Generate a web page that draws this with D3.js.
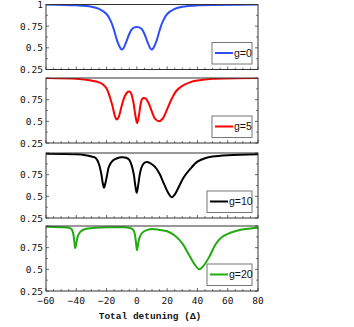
<!DOCTYPE html>
<html>
<head>
<meta charset="utf-8">
<script src="https://cdn.jsdelivr.net/npm/d3@7"></script>
<style>
  body { margin: 0; background: #fff; }
  svg text { fill: #111; }
</style>
</head>
<body>
<div id="chart"></div>
<script>
// values
const labels = ["g=0", "g=5", "g=10", "g=20"];
const colors = ["#2e4dff", "#ff0000", "#000000", "#22aa11"];

const g0X = [-60, -40, -30, -25, -20, -17, -15, -13, -11, -10, -9, -7, -5, -3, 0, 3, 5, 7, 9, 10, 11, 13, 15, 17, 20, 25, 30, 40, 80];
const g0Y = [1.0, 0.99, 0.975, 0.95, 0.89, 0.80, 0.70, 0.58, 0.50, 0.48, 0.49, 0.57, 0.66, 0.72, 0.74, 0.72, 0.66, 0.57, 0.49, 0.48, 0.50, 0.58, 0.70, 0.80, 0.89, 0.95, 0.975, 0.99, 1.0];

const g5X = [-60, -40, -30, -25, -22, -20, -18, -16, -14.5, -13.3, -12, -10, -8, -6, -5, -4, -2.5, -1, 0.2, 1.5, 2.5, 3.5, 4.7, 6, 8, 10, 12, 14.5, 17, 20, 23, 26, 30, 35, 40, 50, 80];
const g5Y = [1.0, 0.99, 0.97, 0.95, 0.92, 0.88, 0.79, 0.67, 0.56, 0.52, 0.55, 0.68, 0.79, 0.84, 0.845, 0.83, 0.74, 0.57, 0.48, 0.58, 0.70, 0.76, 0.77, 0.76, 0.70, 0.61, 0.53, 0.50, 0.53, 0.64, 0.76, 0.85, 0.91, 0.95, 0.97, 0.99, 1.0];

const g10X = [-60, -40, -34, -30, -27, -25, -23.5, -22.5, -21.7, -20.8, -19.5, -18.5, -16, -13, -10, -7, -5, -3.5, -2, -1, -0.1, 0.8, 2, 3, 4.5, 6.5, 9, 12, 15, 18, 21, 23, 25, 28, 31, 35, 40, 45, 50, 60, 80];
const g10Y = [0.99, 0.985, 0.975, 0.96, 0.94, 0.87, 0.76, 0.65, 0.60, 0.65, 0.76, 0.84, 0.91, 0.94, 0.95, 0.945, 0.92, 0.86, 0.75, 0.62, 0.54, 0.62, 0.76, 0.83, 0.88, 0.895, 0.88, 0.84, 0.76, 0.64, 0.53, 0.49, 0.52, 0.62, 0.72, 0.81, 0.90, 0.94, 0.96, 0.975, 0.985];

const g20X = [-60, -50, -45, -43, -42, -41.3, -40.7, -40, -39, -37.5, -35, -30, -20, -10, -5, -2.5, -1.3, -0.5, 0.1, 0.8, 1.8, 3.5, 6, 10, 15, 20, 25, 30, 34, 38, 41.2, 44, 48, 52, 56, 60, 66, 72, 80];
const g20Y = [0.99, 0.985, 0.98, 0.96, 0.91, 0.82, 0.745, 0.80, 0.88, 0.93, 0.96, 0.975, 0.985, 0.985, 0.98, 0.96, 0.90, 0.80, 0.72, 0.79, 0.87, 0.92, 0.95, 0.965, 0.955, 0.94, 0.89, 0.80, 0.68, 0.56, 0.50, 0.54, 0.65, 0.79, 0.87, 0.91, 0.945, 0.965, 0.98];

const xTicks = [-60, -40, -20, 0, 20, 40, 60, 80];
const yTicksFirst = [0.25, 0.5, 0.75, 1];
const yTicksRest = [0.25, 0.5, 0.75];

const seriesX = [g0X, g5X, g10X, g20X];
const seriesY = [g0Y, g5Y, g10Y, g20Y];

const width = 354, height = 327;
const left = 46, right = 258;
const tops = [4.5, 78, 153, 226];
const ph = 65;

const svg = d3.select("#chart").append("svg")
  .attr("width", width)
  .attr("height", height);

const x = d3.scaleLinear().domain([-60, 80]).range([left, right]);

const tickFont = "'DejaVu Sans Mono', monospace";

tops.forEach((top, i) => {
  const y = d3.scaleLinear().domain([0.25, 1]).range([top + ph, top]);
  const g = svg.append("g");

  g.append("clipPath").attr("id", "clip" + i)
    .append("rect")
    .attr("x", left).attr("y", top)
    .attr("width", right - left).attr("height", ph);

  // inner tick marks, left and right
  const yMinor = d3.range(0.25, 1.0001, 0.125);
  yMinor.forEach(v => {
    const major = Math.abs((v / 0.25) - Math.round(v / 0.25)) < 1e-6;
    const len = major ? 3 : 1.8;
    g.append("line").attr("x1", left).attr("x2", left + len)
      .attr("y1", y(v)).attr("y2", y(v)).attr("stroke", "#444").attr("stroke-width", 0.8);
    g.append("line").attr("x1", right).attr("x2", right - len)
      .attr("y1", y(v)).attr("y2", y(v)).attr("stroke", "#444").attr("stroke-width", 0.8);
  });

  // bottom ticks every 5
  d3.range(-60, 81, 5).forEach(v => {
    const len = v % 20 === 0 ? 3 : 1.8;
    g.append("line").attr("x1", x(v)).attr("x2", x(v))
      .attr("y1", top + ph).attr("y2", top + ph - len)
      .attr("stroke", "#444").attr("stroke-width", 0.8);
  });

  const pts = seriesX[i].map((xv, k) => [xv, seriesY[i][k]]);
  const line = d3.line()
    .x(d => x(d[0]))
    .y(d => y(d[1]))
    .curve(d3.curveCatmullRom.alpha(0.5));

  g.append("path")
    .datum(pts)
    .attr("clip-path", `url(#clip${i})`)
    .attr("fill", "none")
    .attr("stroke", colors[i])
    .attr("stroke-width", 2)
    .attr("d", line);

  // frame
  g.append("rect")
    .attr("x", left).attr("y", top)
    .attr("width", right - left).attr("height", ph)
    .attr("fill", "none").attr("stroke", "#333").attr("stroke-width", 1);

  // y labels
  const yt = i === 0 ? yTicksFirst : yTicksRest;
  g.selectAll("text.yt").data(yt).enter().append("text")
    .attr("x", left - 3)
    .attr("y", d => y(d) + 3.5)
    .attr("text-anchor", "end")
    .style("font-family", tickFont)
    .style("font-size", "9.5px")
    .text(d => String(d));

  // legend
  const lw = labels[i].length > 3 ? 45 : 40;
  const lx = 252 - lw, ly = top + ph - 27;
  g.append("rect")
    .attr("x", lx).attr("y", ly)
    .attr("width", lw).attr("height", 21.5)
    .attr("fill", "#fff").attr("stroke", "#777").attr("stroke-width", 1);
  g.append("line")
    .attr("x1", lx + 3).attr("x2", lx + 21)
    .attr("y1", ly + 10.5).attr("y2", ly + 10.5)
    .attr("stroke", colors[i]).attr("stroke-width", 2);
  g.append("text")
    .attr("x", lx + 22).attr("y", ly + 14)
    .style("font-family", "'Liberation Sans', Arial, sans-serif")
    .style("font-size", "10.5px")
    .text(labels[i]);
});

// x axis labels under the last panel
const bottom = tops[3] + ph;
svg.selectAll("text.xt").data(xTicks).enter().append("text")
  .attr("x", d => x(d))
  .attr("y", bottom + 13)
  .attr("text-anchor", "middle")
  .style("font-family", tickFont)
  .style("font-size", "9.5px")
  .text(d => d < 0 ? "\u2212" + Math.abs(d) : String(d));

svg.append("text")
  .attr("x", 150)
  .attr("y", bottom + 28)
  .attr("text-anchor", "middle")
  .style("font-family", "'Liberation Mono', monospace")
  .style("font-size", "9.5px")
  .style("font-weight", "bold")
  .text("Total detuning  (\u0394)");
</script>
</body>
</html>
